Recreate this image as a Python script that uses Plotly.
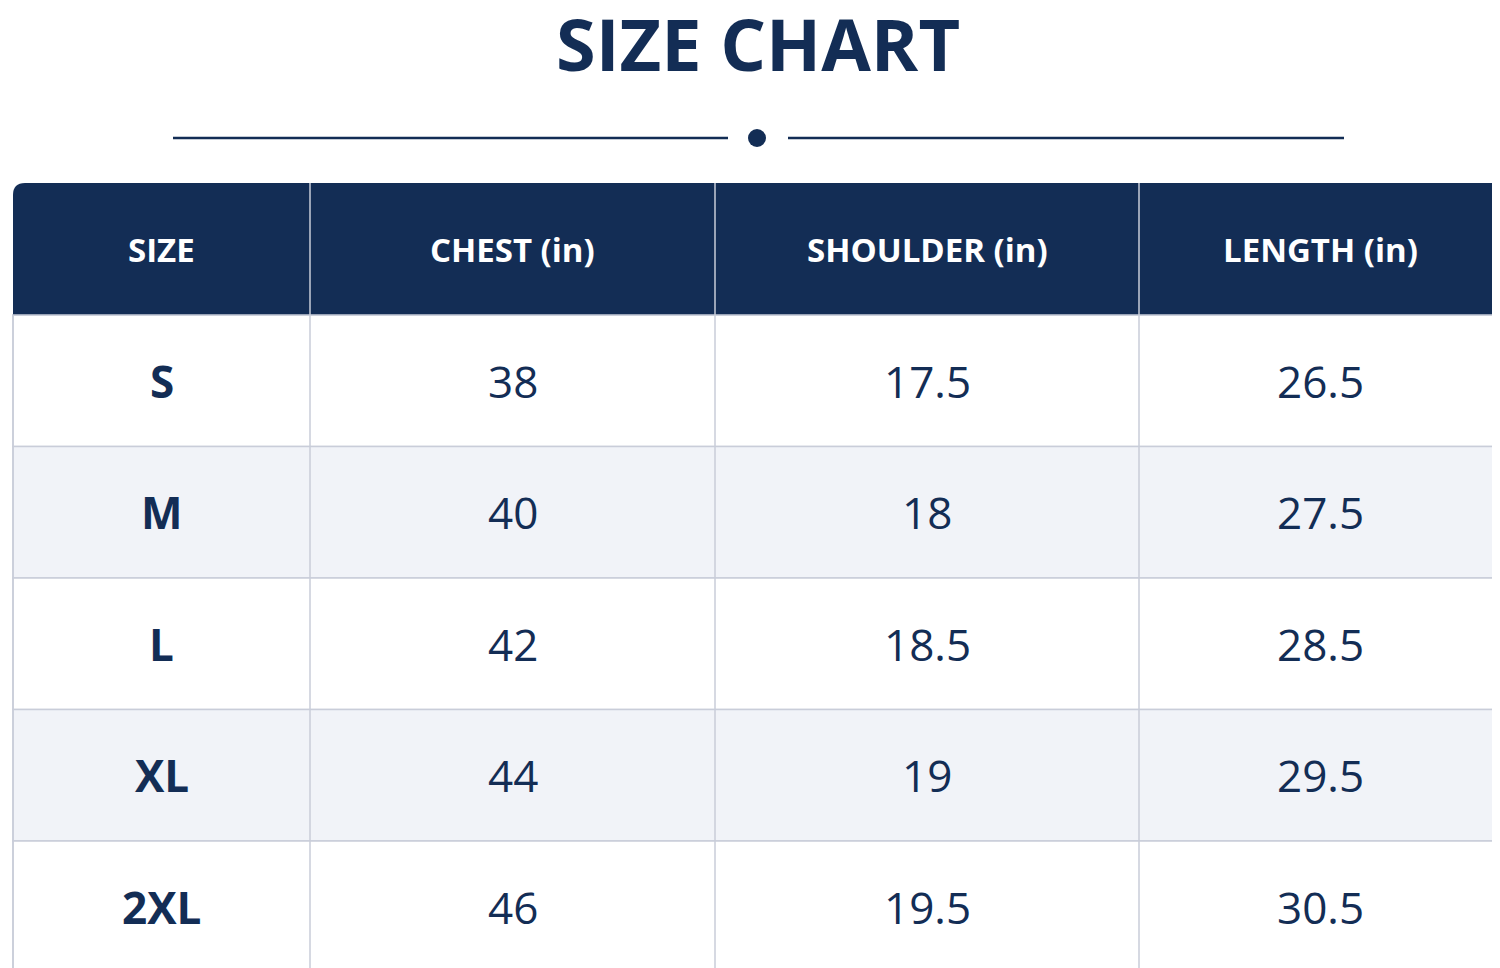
import plotly.graph_objects as go

# Size chart data
headers = ["SIZE", "CHEST (in)", "SHOULDER (in)", "LENGTH (in)"]
sizes = ["S", "M", "L", "XL", "2XL"]
chest = ["38", "40", "42", "44", "46"]
shoulder = ["17.5", "18", "18.5", "19", "19.5"]
length = ["26.5", "27.5", "28.5", "29.5", "30.5"]

NAVY = "#132d55"
GRID = "#c9cdd9"
ROW_FILLS = ["#ffffff", "#f1f3f8"]
W, H = 1500, 968

col_widths = [297, 405, 424, 363]
left, top, head_h, row_h = 5, 175, 132, 131.5

edges = [left]
for w in col_widths:
    edges.append(edges[-1] + w)
right = edges[-1]
bottom = top + head_h + row_h * len(sizes)

fig = go.Figure()
fig.add_trace(go.Scatter(x=[0, W], y=[0, H], mode="markers",
                         marker=dict(opacity=0), hoverinfo="skip", showlegend=False))

# row backgrounds
for i in range(len(sizes)):
    y0 = top + head_h + i * row_h
    fig.add_shape(type="rect", x0=left, x1=right, y0=y0, y1=y0 + row_h,
                  fillcolor=ROW_FILLS[i % 2], line=dict(color=GRID, width=1.5), layer="below")

# header with rounded top corners
r = 12
fig.add_shape(type="path", fillcolor=NAVY, line=dict(width=0),
              path=f"M {left},{top + head_h} L {left},{top + r} Q {left},{top} {left + r},{top} "
                   f"L {right - r},{top} Q {right},{top} {right},{top + r} L {right},{top + head_h} Z")

# vertical grid lines
for e in edges[1:-1]:
    fig.add_shape(type="line", x0=e, x1=e, y0=top, y1=bottom, line=dict(color=GRID, width=1.5))
fig.add_shape(type="rect", x0=left, x1=right, y0=top + head_h, y1=bottom,
              line=dict(color=GRID, width=1.5))

# header text
for j, h in enumerate(headers):
    fig.add_annotation(x=(edges[j] + edges[j + 1]) / 2, y=top + head_h / 2, text=f"<b>{h}</b>",
                       showarrow=False, font=dict(family="Open Sans", size=33, color="white"))

# body text
columns = [sizes, chest, shoulder, length]
for j, col in enumerate(columns):
    for i, v in enumerate(col):
        fig.add_annotation(x=(edges[j] + edges[j + 1]) / 2, y=top + head_h + (i + 0.5) * row_h,
                           text=f"<b>{v}</b>" if j == 0 else v, showarrow=False,
                           font=dict(family="Open Sans", size=44, color=NAVY))

# title with decorative rule
fig.add_annotation(x=W / 2, y=35, text="<b>SIZE CHART</b>", showarrow=False, yanchor="middle",
                   font=dict(family="Open Sans", size=72, color=NAVY))
fig.add_shape(type="line", x0=165, x1=720, y0=130, y1=130, line=dict(color=NAVY, width=2.5))
fig.add_shape(type="line", x0=780, x1=1336, y0=130, y1=130, line=dict(color=NAVY, width=2.5))
fig.add_shape(type="circle", x0=740, x1=758, y0=121, y1=139, fillcolor=NAVY, line=dict(width=0))

fig.update_xaxes(range=[0, W], visible=False, fixedrange=True)
fig.update_yaxes(range=[H, 0], visible=False, fixedrange=True)
fig.update_layout(width=W, height=H, margin=dict(l=0, r=0, t=0, b=0),
                  paper_bgcolor="white", plot_bgcolor="white")
fig.write_html("out.html")
